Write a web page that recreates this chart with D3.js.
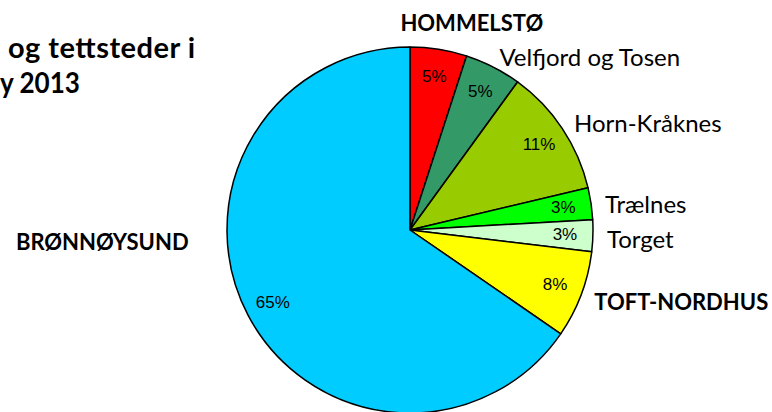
<!DOCTYPE html>
<html>
<head>
<meta charset="utf-8">
<script src="https://cdn.jsdelivr.net/npm/d3@7"></script>
<style>
  body { margin: 0; background: #fff; }
  svg { display: block; }
</style>
</head>
<body>
<svg id="chart" width="772" height="412"></svg>
<script>
(function(){
    'use strict';

    // Data
    const places = ['HOMMELSTØ', 'Velfjord og Tosen', 'Horn-Kråknes', 'Trælnes', 'Torget', 'TOFT-NORDHUS', 'BRØNNØYSUND'];
    const shares = [5.0, 5.0, 11.3, 2.8, 2.8, 7.7, 65.4];
    const boldPlaces = ['HOMMELSTØ', 'TOFT-NORDHUS', 'BRØNNØYSUND'];
    const titleLines = ['og tettsteder i', 'y 2013'];

    const colors = ['#ff0000', '#339966', '#99cc00', '#00ff00', '#ccffcc', '#ffff00', '#00ccff'];

    const cx = 410, cy = 230, radius = 183;

    // the two labels Excel moved away from their slice
    const nudge = {
        'HOMMELSTØ': {dx: 31, dy: -13, anchor: 'middle'},
        'BRØNNØYSUND': {dx: -47, dy: -80, anchor: 'end'}
    };

    const svg = d3.select('#chart');

    // title (its left part is outside the picture in the original)
    const title = svg.append('g')
        .attr('font-family', 'Lato, sans-serif')
        .attr('font-weight', 'bold')
        .attr('font-size', 29)
        .attr('fill', '#000');

    title.append('text')
        .attr('x', 8)
        .attr('y', 58)
        .attr('textLength', 187)
        .attr('lengthAdjust', 'spacing')
        .text(titleLines[0]);

    title.append('text')
        .attr('x', 0)
        .attr('y', 93)
        .attr('textLength', 80)
        .attr('lengthAdjust', 'spacingAndGlyphs')
        .text(titleLines[1]);

    const data = places.map((p, i) => ({name: p, value: shares[i], color: colors[i]}));

    const pie = d3.pie().sort(null).value(d => d.value);
    const arcs = pie(data);

    const arc = d3.arc().innerRadius(0).outerRadius(radius);
    const pctArc = d3.arc().innerRadius(155).outerRadius(155);
    const nameArc = d3.arc().innerRadius(197).outerRadius(197);

    const g = svg.append('g').attr('transform', `translate(${cx}, ${cy})`);

    g.selectAll('path')
        .data(arcs)
        .enter()
        .append('path')
            .attr('d', arc)
            .attr('fill', d => d.data.color)
            .attr('stroke', '#000')
            .attr('stroke-width', 1.5)
            .attr('stroke-linejoin', 'round');

    // percent labels
    g.selectAll('text.pct')
        .data(arcs)
        .enter()
        .append('text')
            .attr('class', 'pct')
            .attr('x', d => pctArc.centroid(d)[0])
            .attr('y', d => pctArc.centroid(d)[1])
            .attr('text-anchor', 'middle')
            .attr('dominant-baseline', 'central')
            .attr('font-family', 'Liberation Sans, Arial, sans-serif')
            .attr('font-size', 17)
            .attr('fill', '#000')
            .text(d => Math.round(d.data.value) + '%');

    // category labels
    const nd = d => nudge[d.data.name] || {dx: 0, dy: 2, anchor: 'start'};
    g.selectAll('text.name')
        .data(arcs)
        .enter()
        .append('text')
            .attr('class', 'name')
            .attr('x', d => nameArc.centroid(d)[0] + nd(d).dx)
            .attr('y', d => nameArc.centroid(d)[1] + nd(d).dy)
            .attr('text-anchor', d => nd(d).anchor)
            .attr('dominant-baseline', 'central')
            .attr('font-family', 'Lato, sans-serif')
            .attr('font-weight', d => boldPlaces.includes(d.data.name) ? 'bold' : 'normal')
            .attr('font-size', d => boldPlaces.includes(d.data.name) ? 22 : 24)
            .attr('fill', '#000')
            .text(d => d.data.name);
})();
</script>
</body>
</html>
